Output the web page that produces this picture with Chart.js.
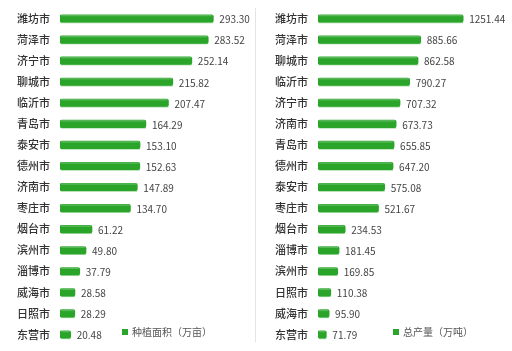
<!DOCTYPE html>
<html><head><meta charset="utf-8">
<script src="https://cdn.jsdelivr.net/npm/chart.js@4.4.1/dist/chart.umd.min.js"></script>
<style>
html,body{margin:0;padding:0;background:#fff;}
#wrap{position:relative;width:512px;height:351px;overflow:hidden;}
.panel{position:absolute;top:0;width:256px;height:351px;}
#divider{position:absolute;left:255px;top:8px;width:1px;height:334px;background:#e4e4e4;}
.legend{position:absolute;font-family:"Noto Sans CJK SC";font-size:10px;color:#555;line-height:12px;white-space:nowrap;}
.legend i{display:inline-block;width:6px;height:6px;background:#2aa52a;margin-right:4px;vertical-align:1px;}
</style></head>
<body><div id="wrap">
<div class="panel" style="left:0"><canvas id="c1" width="256" height="351"></canvas></div>
<div class="panel" style="left:256px"><canvas id="c2" width="256" height="351"></canvas></div>
<div id="divider"></div>
<div class="legend" style="left:122px;top:326px"><i></i>种植面积（万亩）</div>
<div class="legend" style="left:393px;top:326px"><i></i>总产量（万吨）</div>
</div>
<script>
const areaCities = ["潍坊市","菏泽市","济宁市","聊城市","临沂市","青岛市","泰安市","德州市","济南市","枣庄市","烟台市","滨州市","淄博市","威海市","日照市","东营市"];
const areaValues = [293.30,283.52,252.14,215.82,207.47,164.29,153.10,152.63,147.89,134.70,61.22,49.80,37.79,28.58,28.29,20.48];
const outputCities = ["潍坊市","菏泽市","聊城市","临沂市","济宁市","济南市","青岛市","德州市","泰安市","枣庄市","烟台市","淄博市","滨州市","日照市","威海市","东营市"];
const outputValues = [1251.44,885.66,862.58,790.27,707.32,673.73,655.85,647.20,575.08,521.67,234.53,181.45,169.85,110.38,95.90,71.79];
const areaLabel = "种植面积（万亩）";
const outputLabel = "总产量（万吨）";

const valueLabels = {
  id:'valueLabels',
  afterDatasetsDraw(chart){
    const ctx = chart.ctx;
    const meta = chart.getDatasetMeta(0);
    const data = chart.data.datasets[0].data;
    ctx.save();
    ctx.font = '10px "Noto Sans CJK SC"';
    ctx.fillStyle = '#444';
    ctx.textAlign = 'left';
    ctx.textBaseline = 'middle';
    meta.data.forEach((bar,i)=>{
      ctx.fillText(data[i].toFixed(2), bar.x + 6, bar.y + 1);
    });
    ctx.restore();
  }
};
const barShade = {
  id:'barShade',
  beforeDatasetsDraw(chart){
    const ctx = chart.ctx;
    const meta = chart.getDatasetMeta(0);
    ctx.save();
    ctx.fillStyle = '#a6dba6';
    meta.data.forEach(bar=>{
      const h = bar.height;
      ctx.fillRect(bar.base + 1, bar.y + h/2 - 0.5, bar.x - bar.base - 1, 1.5);
    });
    ctx.restore();
  },
  afterDatasetsDraw(chart){
    const ctx = chart.ctx;
    const meta = chart.getDatasetMeta(0);
    ctx.save();
    ctx.fillStyle = 'rgba(255,255,255,0.22)';
    meta.data.forEach(bar=>{
      const h = bar.height;
      ctx.fillRect(bar.base + 1, bar.y - h/2, bar.x - bar.base - 2, 1.5);
    });
    ctx.restore();
  }
};

function makeChart(id, labels, values, label, max, padRight, yWidth){
  const ctx = document.getElementById(id).getContext('2d');
  return new Chart(ctx, {
    type:'bar',
    data:{labels:labels, datasets:[{label:label, data:values,
      backgroundColor:'#2aa52a',
      borderRadius:2, borderSkipped:false,
      barThickness:7.5}]},
    options:{
      indexAxis:'y', responsive:false, animation:false,
      devicePixelRatio:1,
      layout:{padding:{left:0,right:padRight,top:8,bottom:6}},
      plugins:{legend:{display:false}, tooltip:{enabled:false}},
      scales:{
        x:{min:0,max:max,display:false,grid:{display:false}},
        y:{grid:{display:false,drawTicks:false}, border:{display:false},
           ticks:{padding:10,color:'#333',font:{family:'"Noto Sans CJK SC"',size:11,weight:'500'}},
           afterFit(s){ s.width = yWidth; s.paddingTop = 0; s.paddingBottom = 0; }}
      }
    },
    plugins:[barShade,valueLabels]
  });
}
Chart.defaults.font.family = '"Noto Sans CJK SC"';
makeChart('c1', areaCities, areaValues, areaLabel, 350, 13, 60);
makeChart('c2', outputCities, outputValues, outputLabel, 1500, 20, 62);
</script>
</body></html>
